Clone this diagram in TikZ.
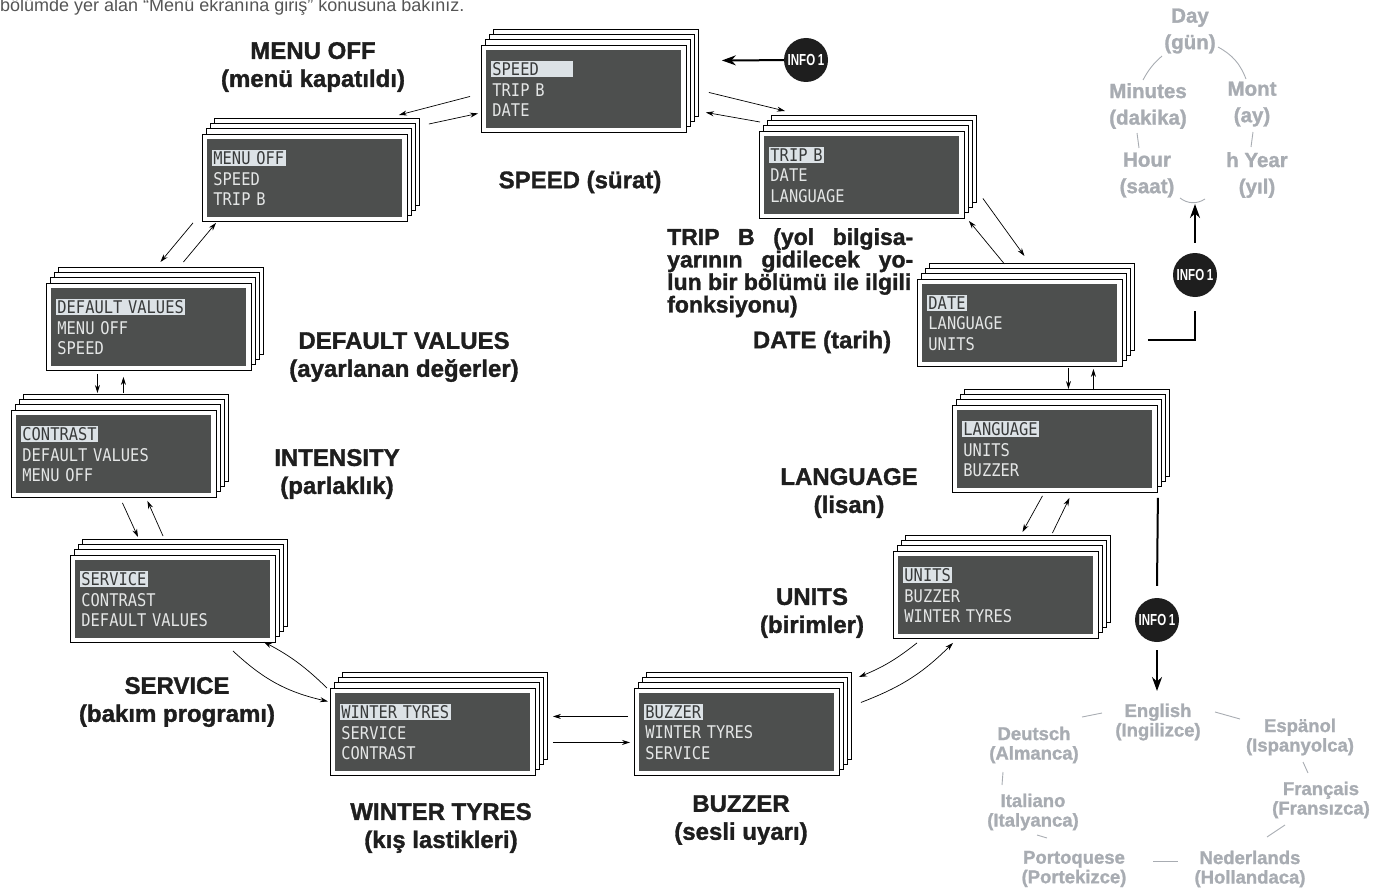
\documentclass[tikz,border=0pt]{standalone}
\usepackage{fontspec}
\setmainfont{Liberation Sans}
\newfontfamily\labelfont{Liberation Sans}[BoldFeatures={FakeBold=1.3}]
\newfontfamily\lcdfont{DejaVu Sans Mono}[FakeStretch=0.88]
\newfontfamily\infofont{Liberation Sans}[FakeStretch=0.72]
\usepackage{xcolor}
\usetikzlibrary{arrows.meta,calc}

\definecolor{lcdgray}{HTML}{4D4F4E}
\definecolor{lcdtext}{HTML}{E4E6E6}
\definecolor{hlbg}{HTML}{DCE2E6}
\definecolor{hltext}{HTML}{383A3A}
\definecolor{labelblack}{HTML}{1E1E1E}
\definecolor{ringgray}{HTML}{A8ACB2}
\definecolor{headgray}{HTML}{555555}

\tikzset{
  lcd box/.style    = {draw, line width=0.9pt, fill=white, minimum width=205pt,
                        minimum height=87pt, inner sep=0pt, text width=183pt,
                        align=left, text=lcdtext,
                        font=\lcdfont\fontsize{17.5}{20.5}\selectfont,
                        path picture={\fill[lcdgray]
                          ([shift={(5pt,-4.5pt)}]path picture bounding box.north west) rectangle
                          ([shift={(-5pt,4.5pt)}]path picture bounding box.south east);}},
  stack box/.style  = {draw, line width=0.8pt, fill=white},
  menu label/.style = {font=\labelfont\bfseries\fontsize{24}{28}\selectfont, align=center,
                        text=labelblack, inner sep=0pt},
  gray label/.style = {font=\labelfont\bfseries\fontsize{20.5}{26.5}\selectfont, align=center,
                        text=ringgray, inner sep=0pt},
  lang label/.style = {gray label, font=\labelfont\bfseries\fontsize{18.5}{19.5}\selectfont},
  head text/.style  = {font=\fontsize{18}{20}\selectfont, text=headgray, inner sep=0pt},
  info node/.style  = {circle, fill=labelblack, minimum size=44pt, inner sep=0pt,
                        text=white, font=\infofont\bfseries\fontsize{16}{16}\selectfont},
  arr/.style        = {-{Stealth[length=8pt,width=5pt]}, line width=0.7pt},
  info arr/.style   = {-{Stealth[length=14pt,width=10pt]}, line width=2pt},
  info line/.style  = {line width=2pt},
  ring/.style       = {line width=0.9pt, ringgray},
}

\newcommand{\menusel}[1]{{\setlength{\fboxsep}{1.5pt}\hspace*{-1.5pt}\colorbox{hlbg}{\textcolor{hltext}{#1}}}}
\newcommand{\menuscreen}[5]{%
  \foreach \k in {3,2,1}
    \draw[stack box] ($(#2)+(4*\k,-5.3*\k)$) rectangle +(205,87);
  \node[lcd box, anchor=north west] (#1) at (#2) {\menusel{#3}\\#4\\#5};
}

\begin{document}
\begin{tikzpicture}[x=1pt, y=-1pt]
  \useasboundingbox (0,0) rectangle (1384,888);
  \node[head text, anchor=base west] (headline) at (0,12)
    {bölümde yer alan “Menü ekranına giriş” konusuna bakınız.};

  % menu screens, clockwise
  \menuscreen{speed}{481,45}{SPEED\hspace{33pt}}{TRIP B}{DATE}
  \menuscreen{tripb}{759,131}{TRIP B}{DATE}{LANGUAGE}
  \menuscreen{date}{917,279}{DATE}{LANGUAGE}{UNITS}
  \menuscreen{lang}{952,405}{LANGUAGE}{UNITS}{BUZZER}
  \menuscreen{units}{893,551}{UNITS}{BUZZER}{WINTER TYRES}
  \menuscreen{buzzer}{634,688}{BUZZER}{WINTER TYRES}{SERVICE}
  \menuscreen{winter}{330,688}{WINTER TYRES}{SERVICE}{CONTRAST}
  \menuscreen{service}{70,555}{SERVICE}{CONTRAST}{DEFAULT VALUES}
  \menuscreen{contrast}{11,410}{CONTRAST}{DEFAULT VALUES}{MENU OFF}
  \menuscreen{dflt}{46,283}{DEFAULT VALUES}{MENU OFF}{SPEED}
  \menuscreen{menuoff}{202,134}{MENU OFF}{SPEED}{TRIP B}

  % labels
  \node[menu label] (menuofflbl) at (313,67) {MENU OFF\\(menü kapatıldı)};
  \node[menu label] (speedlbl)   at (580,182) {SPEED (sürat)};
  \node[menu label, anchor=north west, align=left,
        font=\labelfont\bfseries\fontsize{23}{19.5}\selectfont] (tripblbl) at (667,228)
    {\makebox[246pt][s]{TRIP B (yol bilgisa-}\\
     \makebox[246pt][s]{yarının gidilecek yo-}\\
     lun bir bölümü ile ilgili\\
     fonksiyonu)};
  \node[menu label] (datelbl)    at (822,342) {DATE (tarih)};
  \node[menu label] (dfltlbl)    at (404,357) {DEFAULT VALUES\\(ayarlanan değerler)};
  \node[menu label] (intenslbl)  at (337,474) {INTENSITY\\(parlaklık)};
  \node[menu label] (langlbl)    at (849,493) {LANGUAGE\\(lisan)};
  \node[menu label] (unitslbl)   at (812,613) {UNITS\\(birimler)};
  \node[menu label] (servicelbl) at (177,702) {SERVICE\\(bakım programı)};
  \node[menu label] (winterlbl)  at (441,828) {WINTER TYRES\\(kış lastikleri)};
  \node[menu label] (buzzerlbl)  at (741,820) {BUZZER\\(sesli uyarı)};

  % arrows between screens
  \draw[arr] ($(speed.west)+(-11,7.5)$) -- ($(menuoff.north east)+(-9,-19)$);
  \draw[arr] ($(menuoff.north east)+(21,-10)$) -- ($(speed.west)+(-3,24.5)$);
  \draw[arr] ($(speed.east)+(22,3.5)$) -- ($(tripb.north west)+(26,-20)$);
  \draw[arr] ($(tripb.north west)+(1,-9)$) -- ($(speed.east)+(19,23.5)$);
  \draw[arr] ($(tripb.east)+(18,23.5)$) -- ($(date.north)+(4.5,-23)$);
  \draw[arr] ($(date.north)+(-15.5,-15)$) -- ($(tripb.south east)+(4,2)$);
  \draw[arr] ($(date.south)+(48.5,1)$) -- ($(lang.north)+(13.5,-16)$);
  \draw[arr] ($(lang.north)+(38.5,-15)$) -- ($(date.south)+(73.5,2)$);
  \draw[arr] ($(lang.south)+(-12.5,3)$) -- ($(units.north)+(26.5,-19)$);
  \draw[arr] ($(units.north)+(56.5,-18)$) -- ($(lang.south)+(14.5,5)$);
  \draw[arr] ($(units.south west)+(24,4)$) to[bend left=8] ($(buzzer.north east)+(19,-11)$);
  \draw[arr] ($(buzzer.east)+(21,-29.5)$) to[bend right=12] ($(units.south west)+(60,4)$);
  \draw[arr] ($(buzzer.west)+(-6,-15.5)$) -- ($(winter.east)+(17,-15.5)$);
  \draw[arr] ($(winter.east)+(17,10.5)$) -- ($(buzzer.west)+(-4,10.5)$);
  \draw[arr] ($(winter.north west)+(-3,0)$) to[bend right=8] ($(service.south east)+(-12,-1)$);
  \draw[arr] ($(service.south east)+(-43,8)$) to[bend right=15] ($(winter.west)+(-2,-30.5)$);
  \draw[arr] ($(service.north west)+(93,-19)$) -- ($(contrast.south)+(33.5,3)$);
  \draw[arr] ($(contrast.south)+(8.5,5)$) -- ($(service.north west)+(68,-18)$);
  \draw[arr] ($(dflt.south)+(-51.5,3)$) -- ($(contrast.north)+(-16.5,-17)$);
  \draw[arr] ($(contrast.north)+(9.5,-17)$) -- ($(dflt.south)+(-25.5,6)$);
  \draw[arr] ($(menuoff.south west)+(-9,1)$) -- ($(dflt.north)+(11.5,-21)$);
  \draw[arr] ($(dflt.north)+(34.5,-21)$) -- ($(menuoff.south west)+(14,1)$);

  % INFO 1 buttons
  \node[info node] (infotop) at (806,60) {INFO\,1};
  \draw[info arr] (infotop) -- ($(speed.east)+(35,-28.5)$);

  \node[info node] (inforight) at (1195,275) {INFO\,1};
  \draw[info line] ($(date.east)+(25,17.5)$) -| ([yshift=-14pt]inforight.south);
  \coordinate (dayhook) at (1195,204);
  \draw[info arr] ([yshift=10pt]inforight.north) -- (dayhook);

  \node[info node] (infobottom) at (1157,620) {INFO\,1};
  \draw[info line] ($(lang.south east)+(0,5)$) -- ([yshift=12pt]infobottom.north);
  \coordinate (langhook) at (1157,691);
  \draw[info arr] ([yshift=-8pt]infobottom.south) -- (langhook);

  % date and time ring
  \node[gray label] (day)     at (1190,31)  {Day\\(gün)};
  \node[gray label] (minutes) at (1148,106) {Minutes\\(dakika)};
  \node[gray label] (mont)    at (1252,104) {Mont\\(ay)};
  \node[gray label] (hour)    at (1147,175) {Hour\\(saat)};
  \node[gray label] (hyear)   at (1257,175) {h Year\\(yıl)};
  \draw[ring] ($(day)+(-28,25)$) to[bend right=10] ($(day)+(-47,49)$);
  \draw[ring] ($(day)+(28,16)$) to[bend left=20] ($(day)+(56,48)$);
  \draw[ring] ($(minutes)+(-11,27)$) -- ($(minutes)+(-9,42)$);
  \draw[ring] ($(mont)+(1,28)$) -- ($(mont)+(-1,43)$);
  \draw[ring] ($(dayhook)+(-15,-6)$) to[bend right=35] ($(dayhook)+(10,-5)$);

  % language ring
  \node[lang label] (english)    at (1158,722) {English\\(Ingilizce)};
  \node[lang label] (deutsch)    at (1034,745) {Deutsch\\(Almanca)};
  \node[lang label] (espanol)    at (1300,737) {Espänol\\(Ispanyolca)};
  \node[lang label] (francais)   at (1321,800) {Français\\(Fransızca)};
  \node[lang label] (italiano)   at (1033,812) {Italiano\\(Italyanca)};
  \node[lang label] (portoquese) at (1074,869) {Portoquese\\(Portekizce)};
  \node[lang label] (nederlands) at (1250,869) {Nederlands\\(Hollandaca)};
  \draw[ring] ($(english)+(-76,-5)$) -- ($(english)+(-56,-9)$);
  \draw[ring] ($(english)+(57,-10)$) -- ($(english)+(82,-3)$);
  \draw[ring] ($(espanol)+(3,25)$) -- ($(espanol)+(8,36)$);
  \draw[ring] ($(francais)+(-36,25)$) -- ($(francais)+(-54,37)$);
  \draw[ring] ($(deutsch)+(-31,27)$) -- ($(deutsch)+(-32,40)$);
  \draw[ring] ($(italiano)+(4,23)$) -- ($(italiano)+(14,26)$);
  \draw[ring] ($(portoquese)+(79,-8)$) -- ($(portoquese)+(104,-8)$);
\end{tikzpicture}
\end{document}
